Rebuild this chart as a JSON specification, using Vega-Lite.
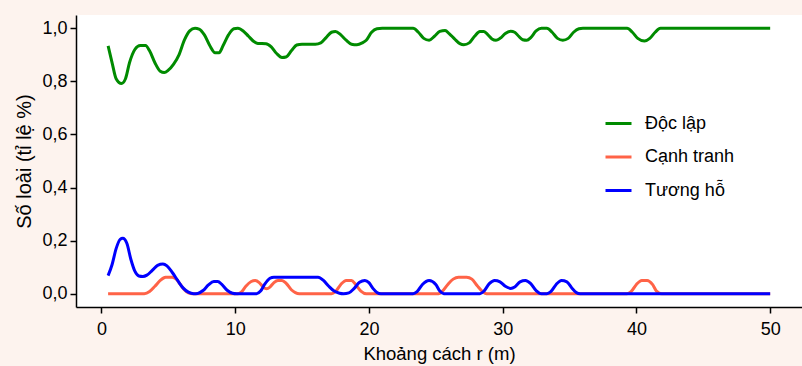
{
  "$schema": "https://vega.github.io/schema/vega-lite/v6.json",
  "autosize": {"type": "none"},
  "padding": {"left": 76, "top": 15, "right": 0, "bottom": 59},
  "width": 726,
  "height": 292,
  "background": "#fdf3ee",
  "config": {
    "view": {"fill": "white", "stroke": null},
    "font": "Liberation Sans",
    "axis": {
      "grid": false,
      "domainColor": "black",
      "domainWidth": 1.5,
      "tickColor": "black",
      "tickWidth": 1.5,
      "tickSize": 6,
      "labelFont": "Liberation Sans",
      "labelFontSize": 18,
      "labelColor": "black",
      "titleFont": "Liberation Sans",
      "titleFontSize": 18.5,
      "titleFontWeight": "normal",
      "titleColor": "black"
    },
    "legend": {
      "labelFont": "Liberation Sans",
      "labelFontSize": 18,
      "labelColor": "black"
    }
  },
  "datasets": {
    "doclap": [
      {"r":0.5,"v":0.934},{"r":0.8,"v":0.87},{"r":1.1,"v":0.81},{"r":1.5,"v":0.792},{"r":1.8,"v":0.81},{"r":2.1,"v":0.87},{"r":2.5,"v":0.92},{"r":2.9,"v":0.935},{"r":3.3,"v":0.935},{"r":3.6,"v":0.915},{"r":4.0,"v":0.87},{"r":4.4,"v":0.838},{"r":4.7,"v":0.833},{"r":5.0,"v":0.842},{"r":5.4,"v":0.865},{"r":5.8,"v":0.9},{"r":6.2,"v":0.955},{"r":6.6,"v":0.99},{"r":7.0,"v":1.0},{"r":7.3,"v":0.997},{"r":7.7,"v":0.975},{"r":8.1,"v":0.935},{"r":8.5,"v":0.908},{"r":8.8,"v":0.908},{"r":9.1,"v":0.935},{"r":9.5,"v":0.975},{"r":9.9,"v":0.998},{"r":10.2,"v":1.0},{"r":10.6,"v":0.99},{"r":11.0,"v":0.97},{"r":11.4,"v":0.95},{"r":11.7,"v":0.943},{"r":12.3,"v":0.942},{"r":12.7,"v":0.93},{"r":13.1,"v":0.905},{"r":13.5,"v":0.89},{"r":13.8,"v":0.892},{"r":14.2,"v":0.915},{"r":14.6,"v":0.937},{"r":15.0,"v":0.94},{"r":16.0,"v":0.94},{"r":16.4,"v":0.945},{"r":16.8,"v":0.965},{"r":17.2,"v":0.985},{"r":17.5,"v":0.988},{"r":17.9,"v":0.975},{"r":18.3,"v":0.955},{"r":18.7,"v":0.94},{"r":19.1,"v":0.938},{"r":19.5,"v":0.945},{"r":19.8,"v":0.955},{"r":20.2,"v":0.985},{"r":20.6,"v":0.998},{"r":21.0,"v":1.0},{"r":23.3,"v":1.0},{"r":23.7,"v":0.985},{"r":24.1,"v":0.962},{"r":24.5,"v":0.955},{"r":24.9,"v":0.97},{"r":25.3,"v":0.988},{"r":25.7,"v":0.992},{"r":26.0,"v":0.98},{"r":26.4,"v":0.96},{"r":26.8,"v":0.942},{"r":27.1,"v":0.938},{"r":27.5,"v":0.945},{"r":27.9,"v":0.97},{"r":28.3,"v":0.988},{"r":28.6,"v":0.988},{"r":28.9,"v":0.975},{"r":29.2,"v":0.96},{"r":29.5,"v":0.955},{"r":29.8,"v":0.962},{"r":30.2,"v":0.98},{"r":30.6,"v":0.989},{"r":30.9,"v":0.985},{"r":31.2,"v":0.97},{"r":31.5,"v":0.957},{"r":31.8,"v":0.955},{"r":32.1,"v":0.965},{"r":32.5,"v":0.99},{"r":32.9,"v":1.0},{"r":33.3,"v":1.0},{"r":33.7,"v":0.985},{"r":34.1,"v":0.962},{"r":34.5,"v":0.955},{"r":34.9,"v":0.962},{"r":35.3,"v":0.985},{"r":35.7,"v":0.998},{"r":36.0,"v":1.0},{"r":39.3,"v":1.0},{"r":39.7,"v":0.985},{"r":40.1,"v":0.962},{"r":40.6,"v":0.952},{"r":41.0,"v":0.962},{"r":41.4,"v":0.985},{"r":41.8,"v":1.0},{"r":50,"v":1.0}
    ],
    "canhtranh": [
      {"r":0.5,"v":0},{"r":3.2,"v":0},{"r":3.6,"v":0.008},{"r":4.0,"v":0.028},{"r":4.4,"v":0.05},{"r":4.8,"v":0.062},{"r":5.3,"v":0.0625},{"r":5.6,"v":0.055},{"r":5.9,"v":0.035},{"r":6.2,"v":0.015},{"r":6.5,"v":0.003},{"r":6.8,"v":0},{"r":10.2,"v":0},{"r":10.5,"v":0.008},{"r":10.8,"v":0.028},{"r":11.2,"v":0.046},{"r":11.5,"v":0.05},{"r":11.8,"v":0.042},{"r":12.1,"v":0.025},{"r":12.35,"v":0.019},{"r":12.6,"v":0.025},{"r":12.9,"v":0.042},{"r":13.2,"v":0.05},{"r":13.5,"v":0.05},{"r":13.8,"v":0.04},{"r":14.2,"v":0.015},{"r":14.5,"v":0.004},{"r":14.8,"v":0},{"r":17.2,"v":0},{"r":17.5,"v":0.008},{"r":17.9,"v":0.035},{"r":18.3,"v":0.05},{"r":18.7,"v":0.05},{"r":19.0,"v":0.035},{"r":19.4,"v":0.01},{"r":19.8,"v":0},{"r":25.2,"v":0},{"r":25.5,"v":0.01},{"r":25.9,"v":0.035},{"r":26.3,"v":0.055},{"r":26.7,"v":0.0625},{"r":27.3,"v":0.0625},{"r":27.7,"v":0.055},{"r":28.1,"v":0.03},{"r":28.5,"v":0.008},{"r":28.8,"v":0},{"r":39.3,"v":0},{"r":39.6,"v":0.008},{"r":40.0,"v":0.035},{"r":40.4,"v":0.05},{"r":40.8,"v":0.05},{"r":41.2,"v":0.035},{"r":41.5,"v":0.01},{"r":41.9,"v":0},{"r":50,"v":0}
    ],
    "tuongho": [
      {"r":0.5,"v":0.068},{"r":0.8,"v":0.11},{"r":1.1,"v":0.17},{"r":1.4,"v":0.205},{"r":1.6,"v":0.209},{"r":1.9,"v":0.19},{"r":2.2,"v":0.13},{"r":2.5,"v":0.085},{"r":2.8,"v":0.067},{"r":3.1,"v":0.065},{"r":3.4,"v":0.07},{"r":3.8,"v":0.088},{"r":4.2,"v":0.107},{"r":4.6,"v":0.112},{"r":4.9,"v":0.105},{"r":5.3,"v":0.08},{"r":5.7,"v":0.05},{"r":6.1,"v":0.022},{"r":6.5,"v":0.006},{"r":6.9,"v":0},{"r":7.2,"v":0.001},{"r":7.6,"v":0.012},{"r":8.0,"v":0.033},{"r":8.4,"v":0.046},{"r":8.7,"v":0.046},{"r":9.0,"v":0.035},{"r":9.4,"v":0.013},{"r":9.8,"v":0.002},{"r":10.1,"v":0},{"r":11.6,"v":0},{"r":11.9,"v":0.01},{"r":12.2,"v":0.035},{"r":12.6,"v":0.058},{"r":12.9,"v":0.0625},{"r":16.2,"v":0.0625},{"r":16.6,"v":0.05},{"r":17.0,"v":0.028},{"r":17.4,"v":0.01},{"r":17.8,"v":0.002},{"r":18.1,"v":0},{"r":18.5,"v":0.003},{"r":18.9,"v":0.02},{"r":19.3,"v":0.043},{"r":19.7,"v":0.05},{"r":20.0,"v":0.042},{"r":20.3,"v":0.02},{"r":20.6,"v":0.005},{"r":20.9,"v":0},{"r":23.3,"v":0},{"r":23.6,"v":0.008},{"r":24.0,"v":0.035},{"r":24.5,"v":0.05},{"r":25.0,"v":0.035},{"r":25.3,"v":0.01},{"r":25.6,"v":0},{"r":28.3,"v":0},{"r":28.6,"v":0.01},{"r":29.0,"v":0.038},{"r":29.4,"v":0.05},{"r":29.8,"v":0.045},{"r":30.2,"v":0.028},{"r":30.6,"v":0.02},{"r":30.9,"v":0.025},{"r":31.3,"v":0.045},{"r":31.7,"v":0.05},{"r":32.1,"v":0.038},{"r":32.5,"v":0.012},{"r":32.9,"v":0},{"r":33.3,"v":0},{"r":33.6,"v":0.008},{"r":34.0,"v":0.035},{"r":34.4,"v":0.05},{"r":34.8,"v":0.045},{"r":35.2,"v":0.02},{"r":35.5,"v":0.005},{"r":35.8,"v":0},{"r":50,"v":0}
    ]
  },
  "encoding": {
    "x": {
      "field": "r",
      "type": "quantitative",
      "scale": {"domain": [-1.9, 52.38], "nice": false, "zero": false},
      "axis": {
        "values": [0, 10, 20, 30, 40, 50],
        "title": "Khoảng cách r (m)",
        "labelPadding": 7,
        "titlePadding": 6
      }
    },
    "y": {
      "field": "v",
      "type": "quantitative",
      "scale": {"domain": [-0.05, 1.05], "nice": false, "zero": false},
      "axis": {
        "values": [0, 0.2, 0.4, 0.6, 0.8, 1.0],
        "labelExpr": "replace(format(datum.value, '.1f'), '.', ',')",
        "title": "Số loài (tỉ lệ %)",
        "titleFontSize": 20,
        "labelPadding": 3,
        "titlePadding": 7
      }
    }
  },
  "layer": [
    {
      "data": {"name": "doclap"},
      "transform": [{"calculate": "'Độc lập'", "as": "s"}],
      "mark": {"type": "line", "interpolate": "monotone", "strokeWidth": 3},
      "encoding": {
        "color": {
          "field": "s",
          "type": "nominal",
          "scale": {"domain": ["Độc lập", "Cạnh tranh", "Tương hỗ"], "range": ["#008b00", "#ff6347", "#0000ff"]},
          "legend": {
            "title": null,
            "orient": "none",
            "legendX": 528,
            "legendY": 94,
            "padding": 0,
            "symbolType": "stroke",
            "symbolSize": 676,
            "symbolStrokeWidth": 3,
            "rowPadding": 9.5,
            "labelOffset": 12
          }
        }
      }
    },
    {
      "data": {"name": "canhtranh"},
      "transform": [{"calculate": "'Cạnh tranh'", "as": "s"}],
      "mark": {"type": "line", "interpolate": "monotone", "strokeWidth": 3},
      "encoding": {"color": {"field": "s", "type": "nominal"}}
    },
    {
      "data": {"name": "tuongho"},
      "transform": [{"calculate": "'Tương hỗ'", "as": "s"}],
      "mark": {"type": "line", "interpolate": "monotone", "strokeWidth": 3},
      "encoding": {"color": {"field": "s", "type": "nominal"}}
    },
    {
      "data": {"values": [{}]},
      "mark": {"type": "rule", "color": "black", "strokeWidth": 1.5},
      "encoding": {"y": {"datum": 1.05}, "x": null}
    }
  ]
}
